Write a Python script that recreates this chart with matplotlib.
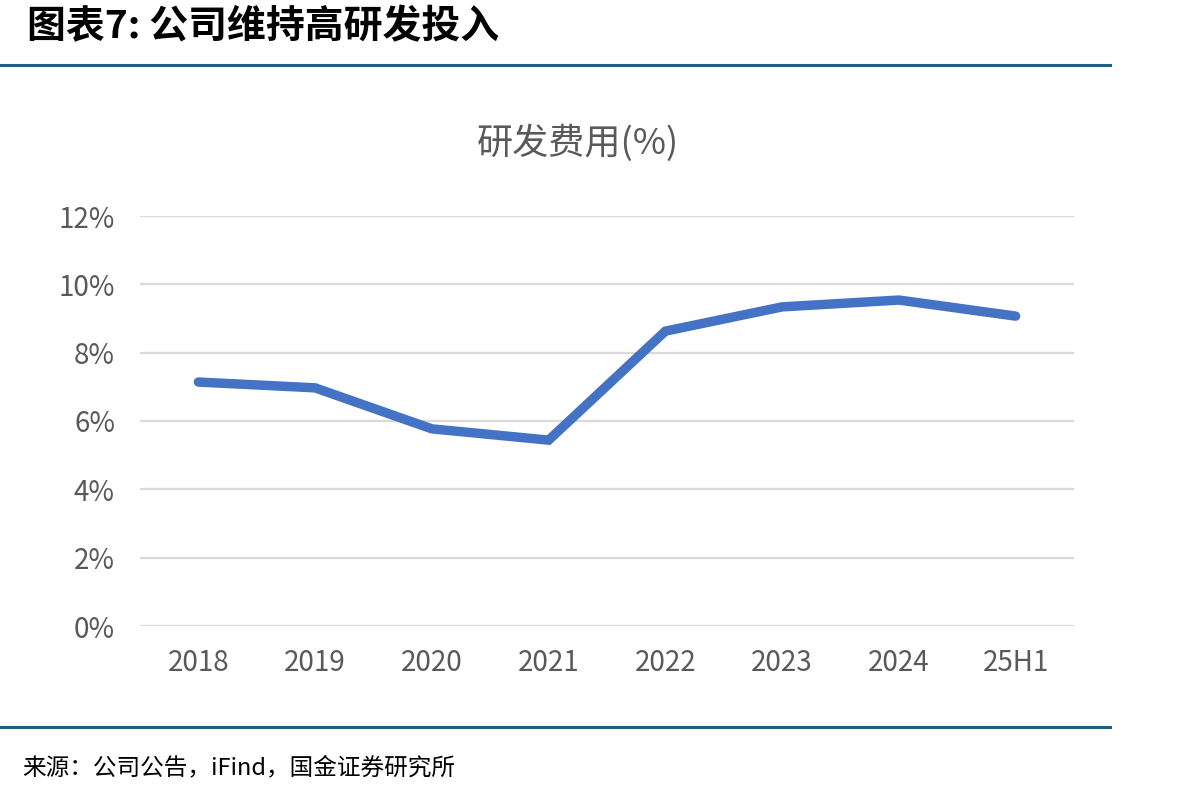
import matplotlib
matplotlib.use("Agg")
import matplotlib.pyplot as plt
from matplotlib.lines import Line2D

# data
categories = ["2018", "2019", "2020", "2021", "2022", "2023", "2024", "25H1"]
rd_ratio = [7.14, 6.97, 5.77, 5.44, 8.63, 9.34, 9.54, 9.07]
y_ticks = [0, 2, 4, 6, 8, 10, 12]
y_tick_labels = ["0%", "2%", "4%", "6%", "8%", "10%", "12%"]

heading = "图表7: 公司维持高研发投入"
chart_title = "研发费用(%)"
source = "来源：公司公告，iFind，国金证券研究所"

cjk = ["Noto Sans CJK SC", "DejaVu Sans"]
plt.rcParams["font.family"] = cjk

W, H = 1204, 796
fig = plt.figure(figsize=(W / 100, H / 100), dpi=100)

# axes box in pixel terms: left 140, right 1074, top 216 (12%), bottom 626 (0%)
ax = fig.add_axes([140 / W, 1 - 626 / H, (1074 - 140) / W, (626 - 216) / H])
x = list(range(len(categories)))
ax.plot(x, rd_ratio, color="#4472C4", linewidth=6.8, solid_capstyle="round",
        solid_joinstyle="miter", zorder=3)

ax.set_xlim(-0.5, len(categories) - 0.5)
ax.set_ylim(0, 12)
ax.set_yticks(y_ticks)
ax.set_yticklabels(y_tick_labels, fontsize=20, color="#595959")
ax.set_xticks(x)
ax.set_xticklabels(categories, fontsize=20, color="#595959")
ax.tick_params(length=0)
ax.tick_params(axis="x", pad=16)
ax.tick_params(axis="y", pad=18)
ax.grid(axis="y", color="#D9D9D9", linewidth=1.6)
ax.set_axisbelow(True)
for s in ax.spines.values():
    s.set_visible(False)

fig.text(578 / W, 1 - 143 / H, chart_title, ha="center", va="center",
         fontsize=26, color="#595959", weight="light")

# heading and rules
fig.text(27 / W, 1 - 27 / H, heading, ha="left", va="center",
         fontsize=28, weight="bold", style="italic", color="black")
fig.add_artist(Line2D([0, 1110 / W], [1 - 65 / H, 1 - 65 / H],
                      color="#1F5F84", linewidth=2.2))
fig.add_artist(Line2D([0, 1110 / W], [1 - 727 / H, 1 - 727 / H],
                      color="#1F5F84", linewidth=2.2))
fig.text(22 / W, 1 - 768 / H, source, ha="left", va="center",
         fontsize=17, color="black")

fig.savefig("out.png", dpi=100)
